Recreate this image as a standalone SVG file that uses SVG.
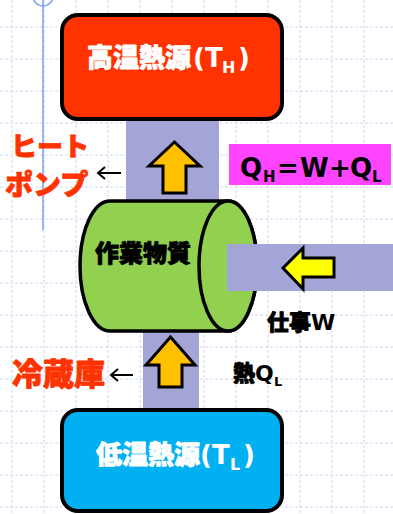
<svg xmlns="http://www.w3.org/2000/svg" width="393" height="514" viewBox="0 0 393 514">
<style>
.grid line{stroke:#cdd8f6;stroke-width:1;stroke-dasharray:3 2}
.box{stroke:#000;stroke-width:4}
.band{fill:#a2a5d5}
.arr{stroke:#000;stroke-width:3;stroke-linejoin:miter}
.cjk{font-family:"Noto Sans CJK JP","Noto Sans CJK SC",sans-serif;font-weight:900;stroke-width:0.8;stroke-linejoin:round}
.lat{font-family:"DejaVu Sans","Liberation Sans",sans-serif;font-weight:bold}
.red{fill:#ff3300;stroke:#ff3300}
.blk{fill:#000;stroke:#000}
.wht{fill:#fff;stroke:#fff}
.small{fill:none;stroke:#000;stroke-width:2}
</style>
<rect width="393" height="514" fill="#fff"/>
<g class="grid">
<line x1="12" y1="0" x2="12" y2="514"/><line x1="44" y1="0" x2="44" y2="514"/><line x1="76" y1="0" x2="76" y2="514"/><line x1="108" y1="0" x2="108" y2="514"/><line x1="140" y1="0" x2="140" y2="514"/><line x1="172" y1="0" x2="172" y2="514"/><line x1="204" y1="0" x2="204" y2="514"/><line x1="236" y1="0" x2="236" y2="514"/><line x1="268" y1="0" x2="268" y2="514"/><line x1="300" y1="0" x2="300" y2="514"/><line x1="332" y1="0" x2="332" y2="514"/><line x1="364" y1="0" x2="364" y2="514"/>
<line x1="0" y1="27" x2="393" y2="27"/><line x1="0" y1="59" x2="393" y2="59"/><line x1="0" y1="91" x2="393" y2="91"/><line x1="0" y1="123" x2="393" y2="123"/><line x1="0" y1="155" x2="393" y2="155"/><line x1="0" y1="187" x2="393" y2="187"/><line x1="0" y1="219" x2="393" y2="219"/><line x1="0" y1="251" x2="393" y2="251"/><line x1="0" y1="283" x2="393" y2="283"/><line x1="0" y1="315" x2="393" y2="315"/><line x1="0" y1="347" x2="393" y2="347"/><line x1="0" y1="379" x2="393" y2="379"/><line x1="0" y1="411" x2="393" y2="411"/><line x1="0" y1="443" x2="393" y2="443"/><line x1="0" y1="475" x2="393" y2="475"/><line x1="0" y1="507" x2="393" y2="507"/>
</g>
<g id="guide" fill="none" stroke="#7f9cf7" stroke-width="1.5">
<line x1="43" y1="0" x2="43" y2="230"/>
<circle cx="43" cy="-4" r="10"/>
</g>
<g id="connectors">
<rect class="band" x="126" y="119" width="93" height="84"/>
<polygon class="arr" fill="#ffc000" points="174.5,142 200,166 186,166 186,193 163,193 163,166 149,166"/>
<rect class="band" x="143" y="329" width="56" height="82"/>
<polygon class="arr" fill="#ffc000" points="170.5,337 195,365 182,365 182,387 159,387 159,365 146,365"/>
<path class="small" d="M121 173H98M105 167L98 173L105 179"/>
<path class="small" d="M133 375H111M118 369L111 375L118 381"/>
</g>
<g id="substance">
<path d="M110 201H228A29 65 0 0 1 228 331H110A30 65 0 0 1 110 201Z" fill="#92d050" stroke="#000" stroke-width="3.5"/>
<ellipse cx="228" cy="266" rx="29" ry="65" fill="#92d050" stroke="#000" stroke-width="3.5"/>
<text class="cjk blk" x="95" y="262" font-size="24">作業物質</text>
</g>
<g id="work">
<rect class="band" x="227" y="244" width="166" height="47"/>
<polygon class="arr" fill="#ffff00" points="283,268 303,248 303,258 334,258 334,277 303,277 303,289"/>
<text x="267" y="330" font-size="22" fill="#000"><tspan class="cjk blk">仕事</tspan><tspan class="lat">W</tspan></text>
</g>
<g id="hot">
<rect class="box" x="62" y="15" width="220" height="104" rx="16" fill="#ff3300"/>
<text y="67" font-size="26" fill="#fff"><tspan class="cjk wht" x="87">高温熱源</tspan><tspan class="lat" x="193">(T</tspan><tspan class="lat" x="222" y="73" font-size="16">H</tspan><tspan class="lat" x="238" y="67">)</tspan></text>
</g>
<g id="cold">
<rect class="box" x="62" y="410" width="220" height="101" rx="16" fill="#00b0f0"/>
<text y="464" font-size="26" fill="#fff"><tspan class="cjk wht" x="96">低温熱源</tspan><tspan class="lat" x="200">(T</tspan><tspan class="lat" x="230" y="470" font-size="16">L</tspan><tspan class="lat" x="243" y="464">)</tspan></text>
</g>
<g id="formula">
<rect x="229" y="144" width="162" height="41" fill="#ff44ff"/>
<text y="177" font-size="26" fill="#000" class="lat"><tspan x="240">Q</tspan><tspan x="263" y="182" font-size="15">H</tspan><tspan x="277" y="177">=</tspan><tspan x="300">W</tspan><tspan x="329">+</tspan><tspan x="350">Q</tspan><tspan x="372" y="182" font-size="15">L</tspan></text>
</g>
<g id="heatpump">
<text class="cjk red" x="11" y="156" font-size="26">ヒート</text>
<text class="cjk red" x="5" y="195" font-size="28">ポンプ</text>
</g>
<g id="fridge">
<text class="cjk red" x="12" y="385" font-size="31">冷蔵庫</text>
</g>
<g id="heat">
<text x="233" y="381" font-size="22" fill="#000"><tspan class="cjk blk">熱</tspan><tspan class="lat">Q</tspan><tspan class="lat" x="274" y="386" font-size="13">L</tspan></text>
</g>
</svg>
